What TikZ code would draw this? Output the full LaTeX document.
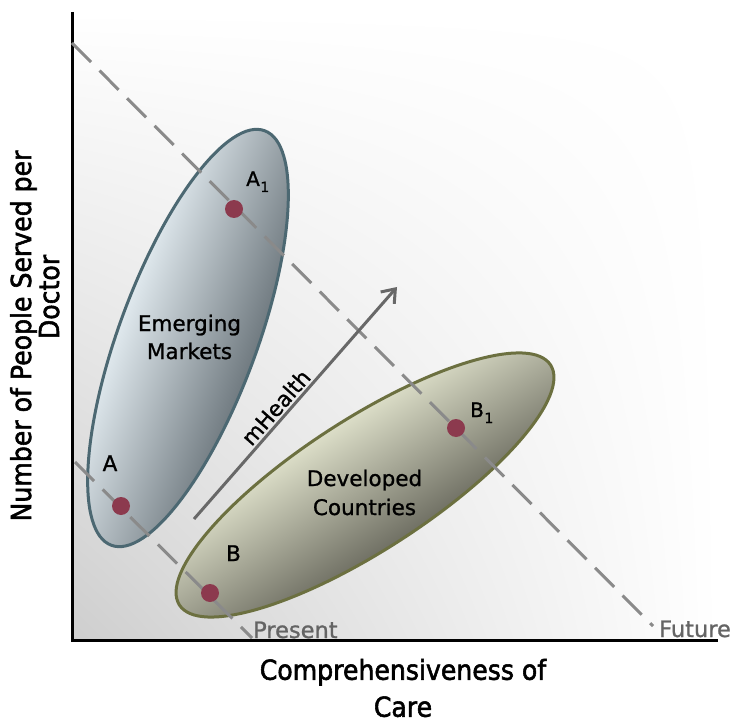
\documentclass[tikz,border=0pt]{standalone}
\usepackage{fontspec}
\setmainfont{DejaVu Sans}[RawFeature={embolden=1}]
\newfontfamily\axfont{DejaVu Sans}[FakeStretch=0.915,RawFeature={embolden=2}]
\usetikzlibrary{arrows.meta,shadings}
\definecolor{bgcorner}{RGB}{206,206,206}
\definecolor{emlight}{RGB}{224,233,238}
\definecolor{emdark}{RGB}{112,122,128}
\definecolor{emborder}{RGB}{76,104,114}
\definecolor{dvlight}{RGB}{220,222,200}
\definecolor{dvdark}{RGB}{112,112,100}
\definecolor{dvborder}{RGB}{108,112,64}
\definecolor{dotc}{RGB}{140,58,78}
\definecolor{dashc}{RGB}{138,138,138}
\definecolor{arrowc}{RGB}{104,104,104}
\definecolor{timec}{RGB}{100,100,100}
\begin{document}
\begin{tikzpicture}[x=1pt,y=-1pt,
  axisline/.style={line width=3pt,black},
  timeline/.style={dashc,line width=3pt,dash pattern=on 27pt off 12pt},
  ptdot/.style={circle,fill=dotc,minimum size=18pt,inner sep=0pt},
  ptlabel/.style={inner sep=0pt,font=\fontsize{21.5}{26}\selectfont},
  sublabel/.style={inner sep=0pt,font=\fontsize{20}{24}\selectfont},
  grouplabel/.style={inner sep=0pt,align=center},
  timelabel/.style={inner sep=0pt,text=timec,font=\fontsize{22.5}{26}\selectfont},
  axislabel/.style={inner sep=0pt,align=center,font=\axfont\fontsize{27.5}{37}\selectfont}]
\useasboundingbox (0,0) rectangle (736,719);
% background
\shade[lower left=bgcorner, lower right=white, upper left=white, upper right=white] (72,12) rectangle (718,640);
% axes
\coordinate (ytop) at (72,12);
\coordinate (origin) at (72,640);
\coordinate (xend) at (718,640);
\draw[axisline] (ytop) -- (origin) -- (xend);
% ellipses
\begin{scope}[transform canvas={shift={(188,338)},rotate=69.7}]
  \shade[top color=emlight,bottom color=emdark] (0,0) ellipse [x radius=221pt,y radius=69pt];
  \draw[emborder,line width=3pt] (0,0) ellipse [x radius=221pt,y radius=69pt];
\end{scope}
\begin{scope}[transform canvas={shift={(365,485)},rotate=32.9}]
  \shade[top color=dvlight,bottom color=dvdark] (0,0) ellipse [x radius=221pt,y radius=65.5pt];
  \draw[dvborder,line width=3pt] (0,0) ellipse [x radius=221pt,y radius=65.5pt];
\end{scope}
% dashed time lines
\coordinate (fut1) at (72,43);
\coordinate (fut2) at (653,626);
\coordinate (pre1) at (75,462);
\coordinate (pre2) at (252,638);
\draw[timeline] (fut1) -- (fut2);
\draw[timeline] (pre1) -- (pre2);
% arrow
\coordinate (ms) at (194,519);
\coordinate (me) at (397,287);
\draw[arrowc,line width=3pt,-{Straight Barb[length=12pt,width=18pt]}] (ms) -- (me);
\node[ptlabel,rotate=48.8,anchor=base] (mh) at (281.8,412.6) {mHealth};
% dots
\node[ptdot] (A) at (121,506) {};
\node[ptdot] (A1) at (234,209) {};
\node[ptdot] (B) at (210,593) {};
\node[ptdot] (B1) at (456,428) {};
% point labels
\node[ptlabel,anchor=base] (lA) at (110,471) {A};
\node[sublabel,anchor=base west] (lA1) at (246,186) {A\kern0.5pt\raisebox{-6pt}{\fontsize{14}{14}\selectfont 1}};
\node[ptlabel,anchor=base] (lB) at (233.5,561) {B};
\node[sublabel,anchor=base west] (lB1) at (470,417) {B\kern0.5pt\raisebox{-6pt}{\fontsize{14}{14}\selectfont 1}};
% group labels
\node[grouplabel,font=\fontsize{21.5}{28}\selectfont] (em) at (189.5,337) {Emerging\\Markets};
\node[grouplabel,font=\fontsize{21.5}{29}\selectfont] (dv) at (364.5,492.5) {Developed\\Countries};
% time labels
\node[timelabel,anchor=base west] (pres) at (253,638) {Present};
\node[timelabel,anchor=base west] (fut) at (659,637) {Future};
% axis labels
\node[axislabel] (xl) at (403,688) {Comprehensiveness of\\Care};
\node[axislabel,rotate=90,anchor=base] (yl1) at (31,336) {Number of People Served per};
\node[axislabel,rotate=90,anchor=base] (yl2) at (59,297) {Doctor};
\end{tikzpicture}
\end{document}
